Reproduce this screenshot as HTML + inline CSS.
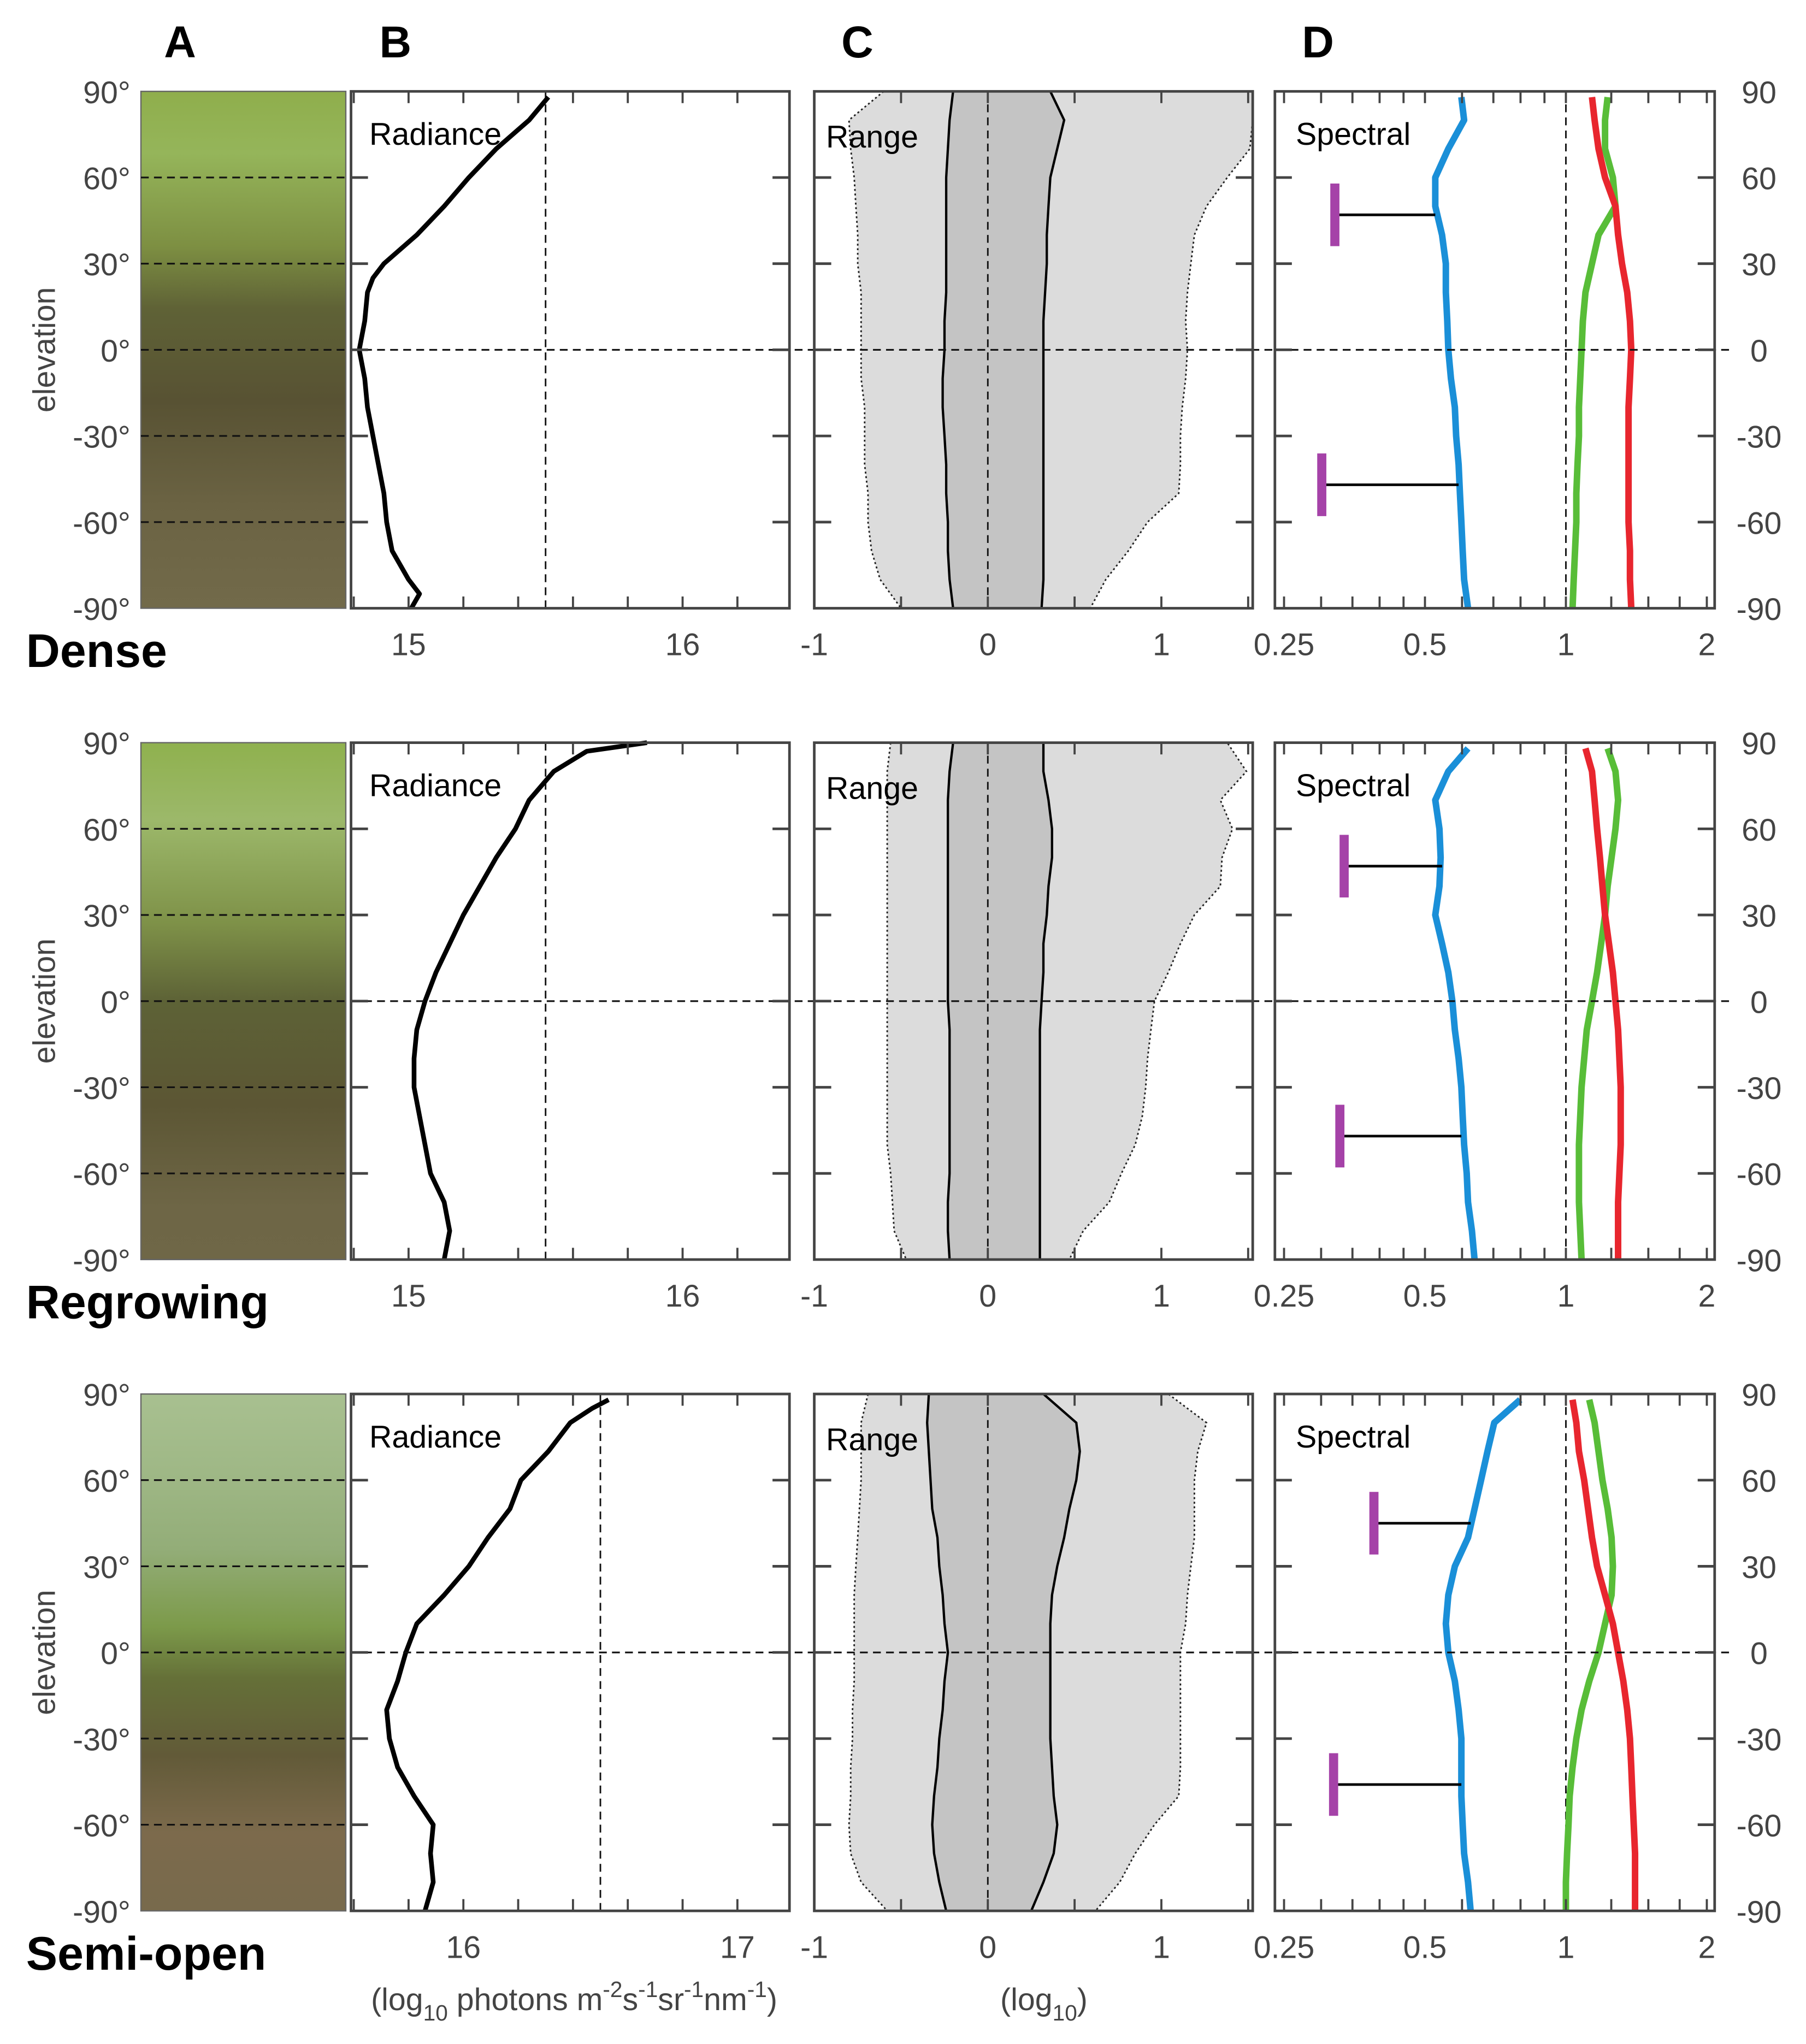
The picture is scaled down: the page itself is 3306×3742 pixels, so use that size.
<!DOCTYPE html>
<html><head><meta charset="utf-8"><style>
html,body{margin:0;padding:0;background:#fff}
svg{display:block}
text{font-family:"Liberation Sans",sans-serif}
</style></head><body>
<svg id="fig" width="3306" height="3742" viewBox="0 0 1384 1566" preserveAspectRatio="none" xmlns="http://www.w3.org/2000/svg">
<defs>
<linearGradient id="g0" x1="0" y1="0" x2="0" y2="1">
<stop offset="0" stop-color="#8fae4c"/><stop offset="0.12" stop-color="#95b55a"/><stop offset="0.3" stop-color="#7d8f42"/><stop offset="0.42" stop-color="#5f6236"/><stop offset="0.6" stop-color="#585233"/><stop offset="0.8" stop-color="#6b6343"/><stop offset="1" stop-color="#726a4a"/></linearGradient>
<linearGradient id="g1" x1="0" y1="0" x2="0" y2="1">
<stop offset="0" stop-color="#8fb14e"/><stop offset="0.15" stop-color="#9cb86a"/><stop offset="0.35" stop-color="#7e9148"/><stop offset="0.5" stop-color="#5d6236"/><stop offset="0.7" stop-color="#5c5634"/><stop offset="0.9" stop-color="#6e6646"/><stop offset="1" stop-color="#6f6747"/></linearGradient>
<linearGradient id="g2" x1="0" y1="0" x2="0" y2="1">
<stop offset="0" stop-color="#a8c090"/><stop offset="0.15" stop-color="#9fb886"/><stop offset="0.3" stop-color="#93ad78"/><stop offset="0.45" stop-color="#7c9a4a"/><stop offset="0.55" stop-color="#657038"/><stop offset="0.7" stop-color="#625a38"/><stop offset="0.85" stop-color="#7c6a4c"/><stop offset="1" stop-color="#786a4c"/></linearGradient>
</defs>
<g id="root"></g>
</svg>
<script>
// ---------- data ----------
const rowNames = ["Dense","Regrowing","Semi-open"];
const elevTicks = [90,60,30,0,-30,-60,-90];
const radElev0 = [88,80,70,60,50,40,30,25,20,10,0,-10,-20,-30,-40,-50,-60,-70,-80,-85,-90];
const radVal0 = [15.51,15.44,15.32,15.22,15.13,15.03,14.91,14.87,14.85,14.84,14.82,14.84,14.85,14.87,14.89,14.91,14.92,14.94,15.0,15.04,15.01];
const radElev1 = [90,87,80,70,60,50,40,30,20,10,0,-10,-20,-30,-40,-50,-60,-70,-80,-90];
const radVal1 = [15.87,15.65,15.53,15.44,15.39,15.32,15.26,15.2,15.15,15.1,15.06,15.03,15.02,15.02,15.04,15.06,15.08,15.13,15.15,15.13];
const radElev2 = [88,85,80,70,60,50,40,30,20,10,0,-10,-20,-30,-40,-50,-60,-70,-80,-90];
const radVal2 = [16.53,16.47,16.39,16.31,16.21,16.17,16.09,16.02,15.93,15.83,15.79,15.76,15.72,15.73,15.76,15.82,15.89,15.88,15.89,15.86];
const radRef = [15.5,15.5,16.5];
const radMin = [14.79,14.79,15.59];
const radMax = [16.39,16.39,17.19];
const radTicks = [[15,16],[15,16],[16,17]];

const rngElev = [90,80,70,60,50,40,30,20,10,0,-10,-20,-30,-40,-50,-60,-70,-80,-90];
const inL0 = [-0.2,-0.22,-0.23,-0.24,-0.24,-0.24,-0.24,-0.24,-0.25,-0.25,-0.26,-0.26,-0.25,-0.24,-0.24,-0.23,-0.23,-0.22,-0.2];
const inR0 = [0.36,0.44,0.4,0.36,0.35,0.34,0.34,0.33,0.32,0.32,0.32,0.32,0.32,0.32,0.32,0.32,0.32,0.32,0.31];
const outL0 = [-0.6,-0.8,-0.79,-0.77,-0.76,-0.75,-0.75,-0.73,-0.73,-0.73,-0.73,-0.71,-0.71,-0.71,-0.69,-0.69,-0.67,-0.62,-0.5];
const outR0 = [1.53,1.53,1.51,1.38,1.26,1.19,1.17,1.15,1.14,1.15,1.14,1.12,1.11,1.11,1.1,0.92,0.81,0.68,0.59];
const inL1 = [-0.2,-0.22,-0.23,-0.23,-0.23,-0.23,-0.23,-0.23,-0.23,-0.23,-0.22,-0.22,-0.22,-0.22,-0.22,-0.22,-0.23,-0.23,-0.22];
const inR1 = [0.32,0.32,0.35,0.37,0.37,0.35,0.34,0.32,0.32,0.31,0.3,0.3,0.3,0.3,0.3,0.3,0.3,0.3,0.3];
const outL1 = [-0.56,-0.58,-0.58,-0.58,-0.58,-0.58,-0.58,-0.58,-0.58,-0.58,-0.58,-0.58,-0.58,-0.58,-0.58,-0.56,-0.55,-0.54,-0.47];
const outR1 = [1.38,1.49,1.34,1.41,1.35,1.34,1.19,1.11,1.04,0.96,0.94,0.92,0.91,0.89,0.85,0.77,0.7,0.55,0.47];
const inL2 = [-0.34,-0.35,-0.34,-0.33,-0.32,-0.29,-0.28,-0.26,-0.25,-0.23,-0.25,-0.26,-0.28,-0.29,-0.31,-0.32,-0.31,-0.28,-0.24];
const inR2 = [0.32,0.51,0.53,0.51,0.47,0.44,0.4,0.37,0.36,0.36,0.36,0.36,0.36,0.37,0.38,0.4,0.38,0.32,0.25];
const outL2 = [-0.69,-0.73,-0.73,-0.73,-0.74,-0.75,-0.76,-0.77,-0.77,-0.77,-0.77,-0.78,-0.78,-0.79,-0.79,-0.8,-0.79,-0.73,-0.58];
const outR2 = [1.04,1.26,1.21,1.19,1.19,1.19,1.17,1.15,1.14,1.11,1.11,1.11,1.11,1.11,1.1,0.96,0.85,0.76,0.62];
const rngTicks = [-1,0,1];

const spElev = [88,80,70,60,50,40,30,20,10,0,-10,-20,-30,-40,-50,-60,-70,-80,-90];
const blue0 = [0.598,0.606,0.561,0.526,0.526,0.544,0.554,0.554,0.558,0.561,0.568,0.579,0.583,0.59,0.594,0.598,0.602,0.606,0.618];
const green0 = [1.228,1.212,1.212,1.26,1.276,1.174,1.137,1.101,1.087,1.08,1.073,1.066,1.066,1.059,1.053,1.053,1.046,1.039,1.033];
const red0 = [1.137,1.152,1.174,1.212,1.276,1.293,1.318,1.352,1.37,1.379,1.37,1.361,1.361,1.361,1.361,1.361,1.37,1.37,1.379];
const blue1 = [0.618,0.561,0.526,0.537,0.54,0.537,0.526,0.544,0.561,0.572,0.579,0.59,0.598,0.602,0.606,0.614,0.618,0.63,0.638];
const green1 = [1.228,1.276,1.293,1.276,1.252,1.228,1.212,1.189,1.166,1.137,1.108,1.094,1.08,1.073,1.066,1.066,1.066,1.073,1.08];
const red1 = [1.101,1.137,1.152,1.166,1.182,1.197,1.212,1.236,1.26,1.276,1.293,1.301,1.309,1.309,1.309,1.301,1.293,1.293,1.293];
const blue2 = [0.799,0.703,0.68,0.659,0.638,0.618,0.579,0.561,0.554,0.561,0.579,0.59,0.598,0.598,0.598,0.602,0.606,0.618,0.626];
const green2 = [1.122,1.152,1.174,1.197,1.228,1.252,1.26,1.252,1.212,1.174,1.122,1.08,1.053,1.033,1.019,1.013,1.006,1,1];
const red2 = [1.033,1.053,1.066,1.094,1.115,1.137,1.166,1.212,1.26,1.293,1.326,1.352,1.37,1.379,1.387,1.396,1.405,1.405,1.405];
// error bars: [bar value, elevation, line end value]
const errBars0 = [[0.321,47,0.526],[0.301,-47,0.59]];
const errBars1 = [[0.336,47,0.544],[0.329,-47,0.598]];
const errBars2 = [[0.389,45,0.626],[0.319,-46,0.598]];
const spTickVals = [0.25,0.5,1,2];
const spTickLbl = ["0.25","0.5","1","2"];
const spMinor = [0.3,0.35,0.4,0.45,0.6,0.7,0.8,0.9,1.25,1.5,1.75];

const radE=[radElev0,radElev1,radElev2], radV=[radVal0,radVal1,radVal2];
const INL=[inL0,inL1,inL2], INR=[inR0,inR1,inR2], OUTL=[outL0,outL1,outL2], OUTR=[outR0,outR1,outR2];
const BL=[blue0,blue1,blue2], GR=[green0,green1,green2], RD=[red0,red1,red2], EB=[errBars0,errBars1,errBars2];

// ---------- layout ----------
const NS="http://www.w3.org/2000/svg";
const root=document.getElementById('root');
const rowTop=[70,569,1068], PH=396;
const colA=[108,265], colB=[269,605], colC=[624,960], colD=[977,1314];
function mk(tag,attrs,parent){const e=document.createElementNS(NS,tag);for(const k in attrs)e.setAttribute(k,attrs[k]);(parent||root).appendChild(e);return e;}
function ey(r,e){return rowTop[r]+(90-e)/180*PH;}
function xB(r,v){return colB[0]+(v-radMin[r])/(radMax[r]-radMin[r])*(colB[1]-colB[0]);}
function xC(v){return 757+v*133;}
function xD(v){return 1200+108*Math.log2(v);}
function poly(pts){return pts.map(p=>p[0].toFixed(1)+','+p[1].toFixed(1)).join(' ');}

// headers
[["A",138],["B",303],["C",657],["D",1010]].forEach(h=>{
  const t=mk('text',{x:h[1],y:44,'font-size':34,'font-weight':'bold','text-anchor':'middle'});
  
  
  t.textContent=h[0];
});

for(let r=0;r<3;r++){
  const top=rowTop[r], bot=top+PH;
  const g=mk('g',{});
  
  
  const rl=mk('text',{x:20,y:bot+45,'font-size':36,'font-weight':'bold'},g);
  
  
  rl.textContent=rowNames[r];
  const el=mk('text',{x:0,y:0,'font-size':24,fill:'#444','text-anchor':'middle',transform:`translate(42,${top+PH/2}) rotate(-90)`},g);
  
  
  el.textContent='elevation';
  const ph=mk('rect',{x:colA[0],y:top,width:colA[1]-colA[0],height:PH,fill:`url(#g${r})`,stroke:'#666','stroke-width':1},g);
  
  
  elevTicks.forEach(e=>{
    const t=mk('text',{x:100,y:ey(r,e)+9,'font-size':24,fill:'#444','text-anchor':'end'},g);
    
    
    t.textContent=e+'°';
    if(e!==90&&e!==-90){
      const l=mk('line',{x1:colA[0],x2:colA[1],y1:ey(r,e),y2:ey(r,e),stroke:'#111','stroke-width':1.3,'stroke-dasharray':'6,4'},g);
      
      
    }
  });

  // ---- panel B ----
  const pb=mk('g',{},g);
  
  
  const bref=mk('line',{x1:xB(r,radRef[r]),x2:xB(r,radRef[r]),y1:top,y2:bot,stroke:'#111','stroke-width':1.2,'stroke-dasharray':'6,4'},pb);
  
  
  const rline=mk('polyline',{points:poly(radE[r].map((e,i)=>[xB(r,radV[r][i]),ey(r,e)])),fill:'none',stroke:'#000','stroke-width':3.6,'stroke-linejoin':'round'},pb);
  
  
  const rt=mk('text',{x:283,y:top+41,'font-size':24},pb);
  
  
  rt.textContent='Radiance';
  for(let v=Math.ceil(radMin[r]*5)/5;v<radMax[r];v+=0.2){
    const x=xB(r,v);
    mk('line',{x1:x,x2:x,y1:bot,y2:bot-9,stroke:'#444','stroke-width':1.6},pb);
    mk('line',{x1:x,x2:x,y1:top,y2:top+9,stroke:'#444','stroke-width':1.6},pb);
  }
  radTicks[r].forEach(v=>{
    const t=mk('text',{x:xB(r,v),y:bot+36,'font-size':24,fill:'#444','text-anchor':'middle'},pb);
    
    
    t.textContent=v;
  });

  // ---- panel C ----
  const pc=mk('g',{},g);
  
  
  const outer=rngElev.map((e,i)=>[Math.max(colC[0],xC(OUTL[r][i])),ey(r,e)]).concat(rngElev.slice().reverse().map((e,k)=>{const i=rngElev.length-1-k;return [Math.min(colC[1],xC(OUTR[r][i])),ey(r,e)];}));
  const ob=mk('polygon',{points:poly(outer),fill:'#dcdcdc',stroke:'#222','stroke-width':1.2,'stroke-dasharray':'1.5,2'},pc);
  
  
  const inner=rngElev.map((e,i)=>[xC(INL[r][i]),ey(r,e)]).concat(rngElev.slice().reverse().map((e,k)=>{const i=rngElev.length-1-k;return [xC(INR[r][i]),ey(r,e)];}));
  const ib=mk('polygon',{points:poly(inner),fill:'#c4c4c4',stroke:'#000','stroke-width':1.8},pc);
  
  
  mk('line',{x1:xC(0),x2:xC(0),y1:top,y2:bot,stroke:'#111','stroke-width':1.2,'stroke-dasharray':'6,4'},pc);
  const ct=mk('text',{x:633,y:top+43,'font-size':24},pc);
  
  
  ct.textContent='Range';
  [-0.5,0,0.5,1,1.5].forEach(v=>{const x=xC(v);mk('line',{x1:x,x2:x,y1:bot,y2:bot-9,stroke:'#444','stroke-width':1.6},pc);mk('line',{x1:x,x2:x,y1:top,y2:top+9,stroke:'#444','stroke-width':1.6},pc);});
  rngTicks.forEach(v=>{
    const t=mk('text',{x:xC(v),y:bot+36,'font-size':24,fill:'#444','text-anchor':'middle'},pc);
    
    
    t.textContent=v;
  });

  // ---- panel D ----
  const pd=mk('g',{},g);
  
  
  mk('line',{x1:xD(1),x2:xD(1),y1:top,y2:bot,stroke:'#111','stroke-width':1.2,'stroke-dasharray':'6,4'},pd);
  [['blue-line',BL[r],'#1a8fd8'],['green-line',GR[r],'#58bd38'],['red-line',RD[r],'#e8262e']].forEach(s=>{
    const l=mk('polyline',{points:poly(spElev.map((e,i)=>[xD(s[1][i]),ey(r,e)])),fill:'none',stroke:s[2],'stroke-width':5,'stroke-linejoin':'round'},pd);
    
    
  });
  EB[r].forEach(b=>{
    const y=ey(r,b[1]);
    const hl=mk('line',{x1:xD(b[0]),x2:xD(b[2]),y1:y,y2:y,stroke:'#000','stroke-width':2},pd);
    
    
    const vb=mk('line',{x1:xD(b[0]),x2:xD(b[0]),y1:y-24,y2:y+24,stroke:'#a542a8','stroke-width':7},pd);
    
    
  });
  const st=mk('text',{x:993,y:top+41,'font-size':24},pd);
  
  
  st.textContent='Spectral';
  spMinor.concat(spTickVals).forEach(v=>{const x=xD(v);if(x<=colD[0]+1||x>=colD[1]-1)return;mk('line',{x1:x,x2:x,y1:bot,y2:bot-9,stroke:'#444','stroke-width':1.6},pd);mk('line',{x1:x,x2:x,y1:top,y2:top+9,stroke:'#444','stroke-width':1.6},pd);});
  spTickVals.forEach((v,i)=>{
    const t=mk('text',{x:Math.max(xD(v),967),y:bot+36,'font-size':24,fill:'#444','text-anchor':'middle'},pd);
    
    
    t.textContent=spTickLbl[i];
  });
  elevTicks.forEach(e=>{
    const t=mk('text',{x:1348,y:ey(r,e)+9,'font-size':24,fill:'#444','text-anchor':'middle'},pd);
    
    
    t.textContent=e;
  });

  const z=mk('line',{x1:colB[0],x2:colD[1]+15,y1:ey(r,0),y2:ey(r,0),stroke:'#111','stroke-width':1.3,'stroke-dasharray':'6,4'},g);
  
  

  [colB,colC,colD].forEach(c=>{
    const fr=mk('rect',{x:c[0],y:top,width:c[1]-c[0],height:PH,fill:'none',stroke:'#444','stroke-width':2},g);
    
    
    elevTicks.forEach(e=>{if(e===90||e===-90)return;const y=ey(r,e);
      mk('line',{x1:c[0],x2:c[0]+13,y1:y,y2:y,stroke:'#444','stroke-width':2},g);
      mk('line',{x1:c[1],x2:c[1]-13,y1:y,y2:y,stroke:'#444','stroke-width':2},g);});
  });
}
const t1=mk('text',{x:440,y:1540,'font-size':24,fill:'#444','text-anchor':'middle'});


t1.innerHTML='(log<tspan font-size="17" dy="8">10</tspan><tspan dy="-8"> photons m</tspan><tspan font-size="17" dy="-10">-2</tspan><tspan dy="10">s</tspan><tspan font-size="17" dy="-10">-1</tspan><tspan dy="10">sr</tspan><tspan font-size="17" dy="-10">-1</tspan><tspan dy="10">nm</tspan><tspan font-size="17" dy="-10">-1</tspan><tspan dy="10">)</tspan>';
const t2=mk('text',{x:800,y:1540,'font-size':24,fill:'#444','text-anchor':'middle'});


t2.innerHTML='(log<tspan font-size="17" dy="8">10</tspan><tspan dy="-8">)</tspan>';
</script>
</body></html>
